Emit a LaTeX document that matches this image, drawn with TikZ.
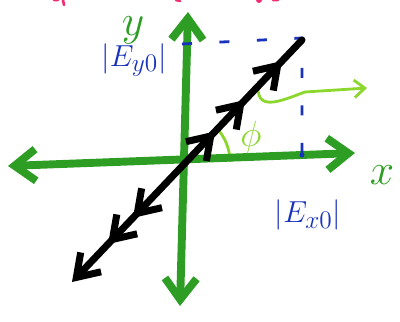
\documentclass[tikz,border=0pt]{standalone}
\usepackage{amsmath}
\usepackage{xcolor}
\usetikzlibrary{arrows.meta,decorations.markings}

\definecolor{axisgreen}{RGB}{45,158,35}
\definecolor{lightgreen}{RGB}{140,215,45}
\definecolor{inkblue}{RGB}{25,50,190}
\definecolor{inkpink}{RGB}{240,45,115}

\tikzset{
  axis/.style={axisgreen,line width=4.5pt,line cap=round,
    {Straight Barb[length=12pt,width=18pt]}-{Straight Barb[length=12pt,width=18pt]}},
  field/.style={black,line width=4pt,line cap=round,
    {Straight Barb[length=12pt,width=16pt]}-,
    postaction={decorate},
    decoration={markings,
      mark=at position 0.157 with {\arrowreversed{Straight Barb[length=12pt,width=16pt]}},
      mark=at position 0.265 with {\arrowreversed{Straight Barb[length=12pt,width=16pt]}},
      mark=at position 0.622 with {\arrow{Straight Barb[length=12pt,width=16pt]}},
      mark=at position 0.752 with {\arrow{Straight Barb[length=12pt,width=16pt]}},
      mark=at position 0.913 with {\arrow{Straight Barb[length=12pt,width=16pt]}}}},
  proj/.style={inkblue,line width=1.6pt,dash pattern=on 0.2cm off 0.55cm},
  wave/.style={lightgreen,line width=1.6pt,-{Straight Barb[length=6pt,width=10pt]}},
  big/.style={font=\fontsize{19}{21}\selectfont}
}

\begin{document}
\begin{tikzpicture}[x=0.02cm,y=-0.02cm]
  \useasboundingbox (0,0) rectangle (400,322);
  % cut-off marks along the top edge
  \draw[inkpink,line width=1.5pt,line cap=round] (63,0) -- (64,5) (54,0) -- (58,0)
    (176,0) -- (180,1) (273,0) -- (278,0);
  \fill[inkpink] (259,0) circle (3);
  % angle between field and x axis
  \coordinate (O) at (180,162);
  \draw[lightgreen,line width=1.6pt] (O) ++(50,0) arc[start angle=0,end angle=-44,radius=50];
  % axes
  \coordinate (xl) at (8,166);
  \coordinate (xr) at (355,153);
  \coordinate (yb) at (180,306);
  \coordinate (yt) at (188,12);
  \draw[axis] (xl) -- (xr);
  \draw[axis] (yb) -- (yt);
  % projections
  \coordinate (ey) at (182,44);
  \coordinate (c) at (302,38);
  \coordinate (ex) at (302,155);
  \draw[proj] (ey) -- (c) -- (ex);
  \fill[inkblue] (ex) circle (2.5);
  % pointer to the angle
  \coordinate (w0) at (258,88);
  \coordinate (w1) at (367,88);
  \draw[wave] (w0) .. controls (258,112) and (283,100) .. (305,92) -- (w1);
  % field line
  \coordinate (sl) at (72,282);
  \coordinate (su) at (302,40);
  \draw[field] (sl) -- (su);
  % labels
  \node[axisgreen,inner sep=0pt,font=\fontsize{28}{30}\selectfont] (ylab) at (133,30) {$y$};
  \node[axisgreen,inner sep=0pt,font=\fontsize{28}{30}\selectfont] (xlab) at (382,175) {$x$};
  \node[inkblue,big] (Ey) at (134,60) {$|E_{y0}|$};
  \node[inkblue,big] (Ex) at (308,215) {$|E_{x0}|$};
  \node[lightgreen,font=\fontsize{20}{22}\selectfont] (phi) at (251,137) {$\phi$};
\end{tikzpicture}
\end{document}
